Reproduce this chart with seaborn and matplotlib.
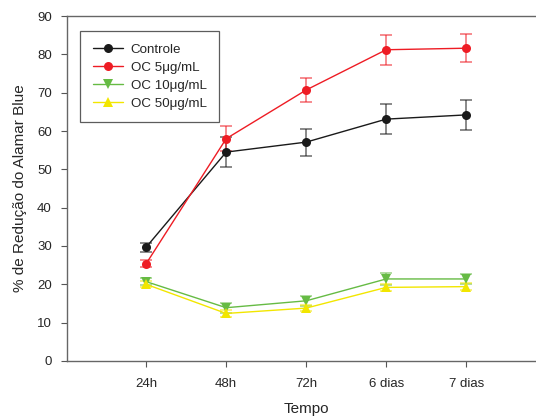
import matplotlib
matplotlib.use("Agg")
import matplotlib.pyplot as plt
import seaborn as sns
import pandas as pd

sns.set_style("ticks")
plt.rcParams["font.family"] = ["Liberation Sans", "DejaVu Sans"]

tempos = ["24h", "48h", "72h", "6 dias", "7 dias"]
grupos = ["Controle", "OC 5\u03bcg/mL", "OC 10\u03bcg/mL", "OC 50\u03bcg/mL"]

controle = [29.7, 54.5, 57.1, 63.1, 64.2]
controle_err = [1.2, 4.0, 3.5, 4.0, 4.0]
oc5 = [25.4, 58.0, 70.7, 81.2, 81.6]
oc5_err = [1.0, 3.2, 3.2, 3.9, 3.7]
oc10 = [20.7, 13.9, 15.7, 21.4, 21.4]
oc10_err = [1.0, 1.3, 1.3, 1.6, 1.4]
oc50 = [20.0, 12.4, 13.8, 19.2, 19.4]
oc50_err = [0.8, 0.8, 0.8, 1.0, 0.9]

cores = ["#1a1a1a", "#ee1c24", "#66bb44", "#f2e600"]
marcadores = ["o", "o", "v", "^"]

valores = [controle, oc5, oc10, oc50]
erros = [controle_err, oc5_err, oc10_err, oc50_err]

linhas = []
for g, v, e in zip(grupos, valores, erros):
    for i, (t, y, s) in enumerate(zip(tempos, v, e)):
        linhas.append({"grupo": g, "pos": i, "tempo": t, "valor": y, "erro": s})
df = pd.DataFrame(linhas)

fig = plt.figure(figsize=(5.36, 4.18), dpi=100)
# the plotting box runs past the right edge of the figure
ax = fig.add_axes([0.125, 0.1364, 0.894, 0.8253])

for g, cor, m in zip(grupos, cores, marcadores):
    sub = df[df["grupo"] == g]
    ax.errorbar(sub["pos"], sub["valor"], yerr=sub["erro"], fmt="none",
                ecolor=cor, alpha=0.6, capsize=4, elinewidth=1.2,
                capthick=1.2, zorder=2)

sns.lineplot(data=df, x="pos", y="valor", hue="grupo", style="grupo",
             hue_order=grupos, style_order=grupos,
             palette=dict(zip(grupos, cores)),
             markers=dict(zip(grupos, marcadores)), dashes=False,
             markersize=6.5, markeredgewidth=0, linewidth=1.0,
             ax=ax, zorder=3)

ax.set_xlim(-0.99, 5.0)
ax.set_ylim(0, 90)
ax.set_yticks(range(0, 91, 10))
ax.set_xticks(range(len(tempos)))
ax.set_xticklabels(tempos)
ax.tick_params(axis="both", labelsize=9.5, length=4, width=0.8,
               color="#555555")
ax.tick_params(axis="y", pad=7)
ax.tick_params(axis="x", pad=8)
ax.set_xlabel("Tempo", fontsize=11, labelpad=9)
ax.set_ylabel("% de Redução do Alamar Blue", fontsize=11, labelpad=7)
for sp in ax.spines.values():
    sp.set_color("#666666")
    sp.set_linewidth(1.0)

leg = ax.legend(loc="upper left", bbox_to_anchor=(0.027, 0.957),
                fontsize=9.6, handlelength=2.3, frameon=True, fancybox=False,
                borderpad=0.95, labelspacing=0.42, handletextpad=0.55,
                borderaxespad=0)
leg.get_frame().set_edgecolor("#333333")
leg.get_frame().set_linewidth(0.9)

fig.savefig("out.png", dpi=100)
